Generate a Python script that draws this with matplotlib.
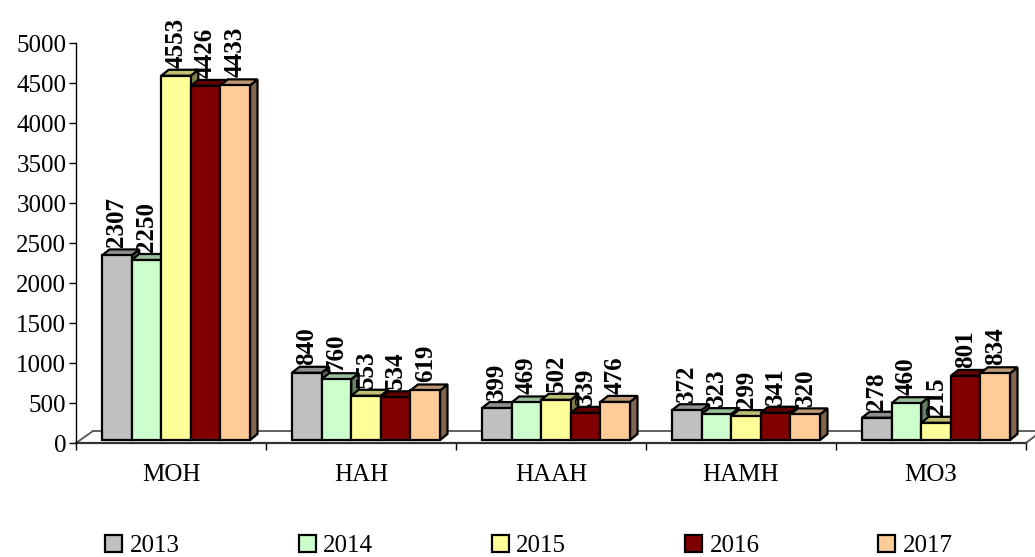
import matplotlib
matplotlib.use("Agg")
import matplotlib.pyplot as plt
from matplotlib.patches import Patch, Polygon
from matplotlib.lines import Line2D
from matplotlib.colors import to_rgb

categories = ["МОН", "НАН", "НААН", "НАМН", "МОЗ"]
years = ["2013", "2014", "2015", "2016", "2017"]
s2013 = [2307, 840, 399, 372, 278]
s2014 = [2250, 760, 469, 323, 460]
s2015 = [4553, 553, 502, 299, 215]
s2016 = [4426, 534, 339, 341, 801]
s2017 = [4433, 619, 476, 320, 834]
series = [s2013, s2014, s2015, s2016, s2017]
colors = ["#C0C0C0", "#CCFFCC", "#FFFF99", "#800000", "#FFCC99"]

plt.rcParams["font.family"] = ["Liberation Serif", "DejaVu Serif"]
W, H = 1035, 557
fig = plt.figure(figsize=(W / 100, H / 100), dpi=100)
L, R, T, B = 76, 1026, 43, 443
ax = fig.add_axes([L / W, 1 - B / H, (R - L) / W, (B - T) / H])
ax.set_xlim(0, 5)
ax.set_ylim(0, 5000)
px = 5 / (R - L)      # data x per pixel
py = 5000 / (B - T)   # data y per pixel

bar_w = 29.6 * px
first = 26 * px
base = 3 * py
dx, dy = 7.5 * px, 6 * py

def shade(c, f):
    return tuple(v * f for v in to_rgb(c))

# floor
kw = dict(color="#555555", lw=1.3, clip_on=False, zorder=1)
ax.add_line(Line2D([0, 17 * px], [0, 12 * py], **kw))
ax.add_line(Line2D([17 * px, 5 + 9 * px], [12 * py, 12 * py], **kw))
ax.add_line(Line2D([5, 5 + 9 * px], [0, 7 * py], **kw))

edge = dict(edgecolor="black", linewidth=1.6, joinstyle="miter")
for g in range(len(categories)):
    for k, vals in enumerate(series):
        v = vals[g]
        x0 = g + first + k * bar_w
        x1 = x0 + bar_w
        top = base + v
        ax.add_patch(Polygon([(x1, base), (x1 + dx, base + dy), (x1 + dx, top + dy), (x1, top)],
                             facecolor=shade(colors[k], 0.5), zorder=3 + g + k * 0.1, **edge))
        ax.add_patch(Polygon([(x0, top), (x0 + dx, top + dy), (x1 + dx, top + dy), (x1, top)],
                             facecolor=shade(colors[k], 0.75), zorder=3 + g + k * 0.1, **edge))
        ax.bar(x0, v, bar_w, bottom=base, align="edge", color=colors[k],
               zorder=3 + g + k * 0.1 + 0.01, clip_on=False, **edge)
        ax.annotate(str(v), (x0 + bar_w / 2, top + dy), xytext=(0, 1.5),
                    textcoords="offset points", rotation=90, ha="center", va="bottom",
                    fontsize=18, fontweight="bold", color="black", zorder=20,
                    annotation_clip=False)

for s in ("top", "right"):
    ax.spines[s].set_visible(False)
ax.spines["left"].set_linewidth(1.0)
ax.spines["bottom"].set_linewidth(1.6)
ax.spines["bottom"].set_color("#333333")
ax.spines["bottom"].set_zorder(2)

ax.set_yticks(range(0, 5001, 500))
ax.tick_params(axis="y", length=5, width=1, labelsize=18, pad=2)
ax.set_xticks(range(6))
ax.set_xticklabels([])
ax.tick_params(axis="x", length=5, width=1)
ax.set_xticks([g + 0.5 for g in range(5)], minor=True)
ax.set_xticklabels(categories, minor=True, fontsize=18)
ax.tick_params(axis="x", which="minor", length=0, pad=15)

handles = [Patch(facecolor=c, edgecolor="black", linewidth=1.6, label=y)
           for c, y in zip(colors, years)]
fig.legend(handles=handles, ncol=5, loc="center", bbox_to_anchor=(529 / W, 1 - 546 / H),
           frameon=False, fontsize=18, handlelength=0.68, handleheight=0.65,
           handletextpad=0.3, columnspacing=4.75, borderpad=0)

fig.savefig("out.png", dpi=100, facecolor="white")
